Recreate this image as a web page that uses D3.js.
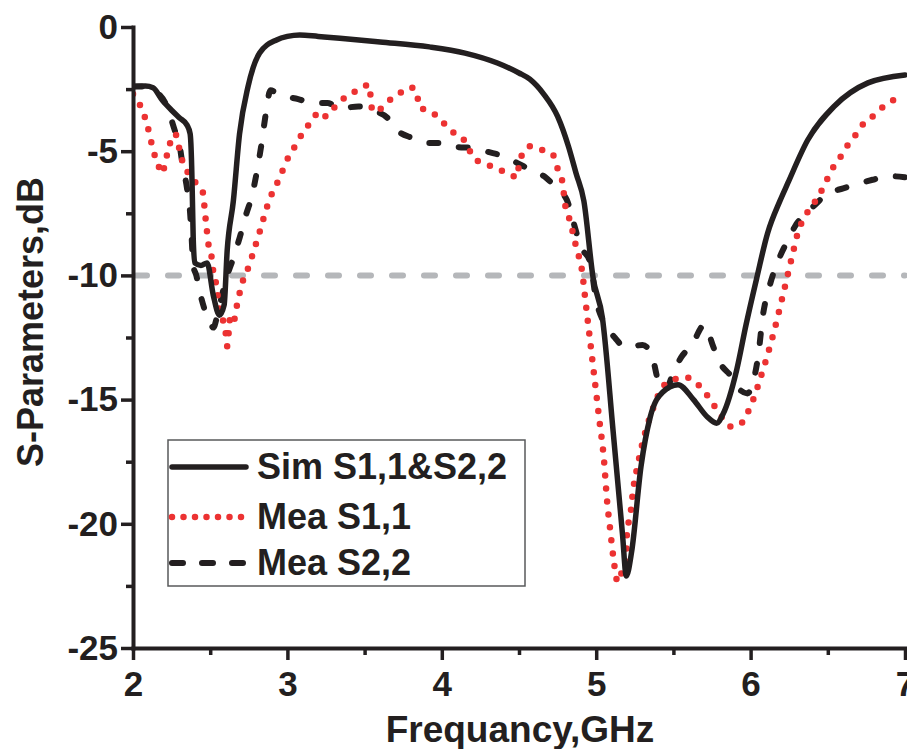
<!DOCTYPE html>
<html>
<head>
<meta charset="utf-8">
<script src="https://cdn.jsdelivr.net/npm/d3@7"></script>
<style>
html,body{margin:0;padding:0;background:#fff;}
svg{display:block;}
text{font-family:"Liberation Sans",Arial,Helvetica,sans-serif;font-weight:bold;fill:#231f20;}
</style>
</head>
<body>
<svg id="chart" width="907" height="749"></svg>
<script>
// ---- data (frequency GHz, S-parameter dB) ----
const simFreq = [2.0,2.08,2.13,2.19,2.25,2.3,2.35,2.37,2.38,2.385,2.39,2.4,2.44,2.48,2.52,2.56,2.59,2.61,2.65,2.69,2.745,2.82,2.93,3.0,3.08,3.2,3.34,3.6,3.92,4.15,4.36,4.5,4.57,4.66,4.75,4.82,4.87,4.92,4.98,5.04,5.11,5.17,5.195,5.23,5.29,5.35,5.43,5.53,5.63,5.72,5.78,5.82,5.91,5.97,6.04,6.11,6.19,6.24,6.37,6.54,6.76,7.0];
const simDb   = [-2.4,-2.38,-2.45,-2.95,-3.35,-3.65,-3.95,-4.3,-5.6,-7.0,-8.5,-9.5,-9.6,-9.5,-10.8,-11.6,-11.2,-9.0,-7.0,-4.3,-2.4,-1.05,-0.52,-0.38,-0.32,-0.38,-0.45,-0.6,-0.8,-1.05,-1.45,-1.85,-2.1,-2.7,-3.6,-4.8,-5.9,-7.0,-10.1,-11.7,-16.3,-20.4,-22.1,-21.1,-17.7,-15.7,-14.7,-14.4,-15.0,-15.7,-15.95,-15.6,-13.8,-12.0,-10.1,-8.3,-7.0,-6.3,-4.55,-3.2,-2.25,-1.93];

const s11Freq = [2.0,2.06,2.09,2.11,2.13,2.155,2.19,2.21,2.235,2.26,2.28,2.3,2.32,2.36,2.41,2.45,2.47,2.49,2.51,2.52,2.54,2.56,2.58,2.6,2.61,2.63,2.65,2.67,2.71,2.74,2.77,2.82,2.87,2.9,2.94,3.01,3.06,3.1,3.15,3.21,3.25,3.31,3.38,3.45,3.53,3.54,3.55,3.59,3.65,3.72,3.8,3.84,3.85,3.92,3.99,4.05,4.12,4.17,4.2,4.28,4.36,4.43,4.49,4.5,4.53,4.57,4.65,4.72,4.75,4.78,4.8,4.83,4.87,4.91,4.93,4.96,4.99,5.02,5.05,5.07,5.09,5.11,5.14,5.17,5.195,5.2,5.22,5.24,5.27,5.31,5.36,5.43,5.5,5.58,5.66,5.71,5.77,5.82,5.88,5.95,5.99,6.02,6.05,6.1,6.15,6.19,6.23,6.27,6.31,6.35,6.41,6.45,6.49,6.53,6.58,6.63,6.68,6.73,6.8,6.86,6.94,7.0];
const s11Db   = [-2.7,-3.35,-3.9,-4.4,-4.95,-5.4,-5.9,-5.4,-4.8,-4.3,-4.35,-4.9,-5.4,-5.9,-6.3,-6.6,-7.7,-8.8,-9.3,-9.85,-10.4,-11.4,-11.75,-12.3,-12.85,-11.7,-11.9,-11.3,-10.25,-9.8,-9.25,-8.25,-7.2,-6.7,-6.2,-5.2,-4.7,-4.25,-3.85,-3.4,-3.6,-3.2,-2.8,-2.56,-2.33,-2.87,-3.4,-3.35,-3.0,-2.7,-2.43,-2.64,-3.2,-3.4,-3.7,-4.15,-4.4,-4.8,-5.25,-5.5,-5.7,-5.9,-6.05,-5.5,-5.05,-4.8,-4.95,-5.15,-5.7,-6.2,-7.2,-7.8,-8.85,-9.9,-11.0,-12.6,-14.2,-15.8,-17.4,-19.05,-20.2,-21.3,-22.35,-21.85,-21.3,-20.25,-19.7,-18.6,-17.6,-16.5,-15.5,-14.5,-14.2,-14.1,-14.4,-14.75,-15.3,-15.75,-16.1,-15.9,-15.4,-14.95,-14.4,-13.4,-12.3,-11.3,-10.25,-9.2,-8.2,-7.65,-7.1,-6.7,-6.2,-5.7,-5.25,-4.75,-4.35,-3.9,-3.55,-3.2,-2.9,-2.75];

const s22Freq = [2.0,2.1,2.15,2.22,2.27,2.3,2.32,2.35,2.37,2.38,2.39,2.41,2.43,2.46,2.5,2.52,2.55,2.6,2.65,2.69,2.73,2.77,2.8,2.83,2.86,2.89,2.95,3.07,3.16,3.26,3.34,3.46,3.55,3.65,3.71,3.81,3.9,4.01,4.1,4.2,4.3,4.41,4.49,4.59,4.67,4.75,4.81,4.85,4.9,4.96,5.0,5.05,5.12,5.19,5.3,5.36,5.4,5.45,5.5,5.55,5.62,5.7,5.76,5.8,5.88,5.93,5.98,6.02,6.05,6.08,6.12,6.16,6.2,6.24,6.29,6.36,6.41,6.5,6.6,6.7,6.79,6.89,7.0];
const s22Db   = [-2.4,-2.4,-2.6,-3.2,-4.15,-4.7,-5.5,-6.5,-7.5,-8.5,-9.6,-10.0,-10.6,-11.3,-11.9,-12.1,-11.5,-10.2,-9.3,-8.5,-7.6,-6.8,-5.9,-4.8,-3.5,-2.55,-2.75,-2.9,-3.06,-3.06,-3.27,-3.2,-3.35,-3.67,-4.15,-4.47,-4.67,-4.67,-4.83,-4.87,-5.03,-5.23,-5.48,-5.8,-6.04,-6.55,-6.96,-7.8,-8.85,-9.45,-11.0,-11.9,-12.5,-12.9,-12.8,-13.2,-14.2,-14.6,-13.9,-13.3,-12.8,-12.0,-12.9,-13.5,-14.1,-14.6,-14.75,-14.2,-13.2,-11.6,-10.5,-9.7,-9.1,-8.6,-8.0,-7.5,-7.2,-6.7,-6.5,-6.3,-6.15,-6.0,-6.05];

const xTicks = [2,3,4,5,6,7];
const xMinor = [2.5,3.5,4.5,5.5,6.5];
const yTicks = [0,-5,-10,-15,-20,-25];
const yMinor = [-2.5,-7.5,-12.5,-17.5,-22.5];
const refLevel = -10;
const seriesNames = ["Sim S1,1&S2,2","Mea S1,1","Mea S2,2"];
const xTitle = "Frequancy,GHz";
const yTitle = "S-Parameters,dB";

// ---- drawing ----
const svg = d3.select("#chart");
const x = d3.scaleLinear().domain([2,7]).range([133,905]);
const y = d3.scaleLinear().domain([-25,0]).range([648,27]);

const ink = "#231f20";
const red = "#ec3232";

svg.append("defs").append("clipPath").attr("id","plotclip")
  .append("rect").attr("x",133).attr("y",0).attr("width",774).attr("height",648);

// reference line at -10 dB
svg.append("line")
  .attr("x1",x(2)+3).attr("x2",x(7)).attr("y1",y(refLevel)).attr("y2",y(refLevel))
  .attr("stroke","#b5b7ba").attr("stroke-width",6)
  .attr("stroke-linecap","round").attr("stroke-dasharray","11 21");

const line = d3.line().x(d=>x(d[0])).y(d=>y(d[1])).curve(d3.curveMonotoneX);
const zip = (a,b)=>a.map((v,i)=>[v,b[i]]);

const g = svg.append("g").attr("clip-path","url(#plotclip)");
const styles = [
  {stroke:ink, width:5.5, dash:null, cap:"round"},
  {stroke:red, width:6.5, dash:"0 13", cap:"round"},
  {stroke:ink, width:6, dash:"9 21", cap:"round"}
];
const datasets = [zip(simFreq,simDb), zip(s11Freq,s11Db), zip(s22Freq,s22Db)];
[2,1,0].forEach(i=>{
  const s = styles[i];
  g.append("path").datum(datasets[i])
    .attr("d",line).attr("fill","none")
    .attr("stroke",s.stroke).attr("stroke-width",s.width)
    .attr("stroke-linecap",s.cap).attr("stroke-linejoin","round")
    .attr("stroke-dasharray",s.dash);
});

// axes
const fmt = d=>String(d);
const xAxis = svg.append("g").attr("transform","translate(0,648)")
  .call(d3.axisBottom(x).tickValues(xTicks).tickFormat(fmt).tickSize(12).tickSizeOuter(0).tickPadding(11));
const xAxisMinor = svg.append("g").attr("transform","translate(0,648)")
  .call(d3.axisBottom(x).tickValues(xMinor).tickFormat("").tickSize(7).tickSizeOuter(0));
const yAxis = svg.append("g").attr("transform","translate(133,0)")
  .call(d3.axisLeft(y).tickValues(yTicks).tickFormat(fmt).tickSize(12).tickSizeOuter(0).tickPadding(3));
const yAxisMinor = svg.append("g").attr("transform","translate(133,0)")
  .call(d3.axisLeft(y).tickValues(yMinor).tickFormat("").tickSize(7).tickSizeOuter(0));

[xAxis,xAxisMinor,yAxis,yAxisMinor].forEach(a=>{
  a.select(".domain").attr("stroke",ink).attr("stroke-width",4).attr("stroke-linecap","square");
  a.selectAll(".tick line").attr("stroke",ink).attr("stroke-width",3.5);
  a.selectAll(".tick text").attr("fill",ink)
    .style("font-family","'Liberation Sans',Arial,sans-serif")
    .style("font-weight","bold").style("font-size","35px");
});
xAxisMinor.select(".domain").remove();
yAxisMinor.select(".domain").remove();

// axis titles
svg.append("text").attr("x",520).attr("y",742).attr("text-anchor","middle")
  .style("font-size","37px").text(xTitle);
svg.append("text").attr("transform","translate(43,322) rotate(-90)").attr("text-anchor","middle")
  .style("font-size","36px").text(yTitle);

// legend
const lg = svg.append("g");
lg.append("rect").attr("x",168).attr("y",440).attr("width",357).attr("height",146)
  .attr("fill","#fff").attr("stroke","#58595b").attr("stroke-width",1.5);
const rowsY = [467,517,563];
seriesNames.forEach((name,i)=>{
  const s = styles[i];
  lg.append("line").attr("x1",172).attr("x2",246).attr("y1",rowsY[i]).attr("y2",rowsY[i])
    .attr("stroke",s.stroke).attr("stroke-width",s.width)
    .attr("stroke-linecap",s.cap)
    .attr("stroke-dasharray", i===1 ? "0 11.5" : (i===2 ? "11 19" : null));
  lg.append("text").attr("x",257).attr("y",rowsY[i]+11.5)
    .style("font-size","36px").text(name);
});
</script>
</body>
</html>
